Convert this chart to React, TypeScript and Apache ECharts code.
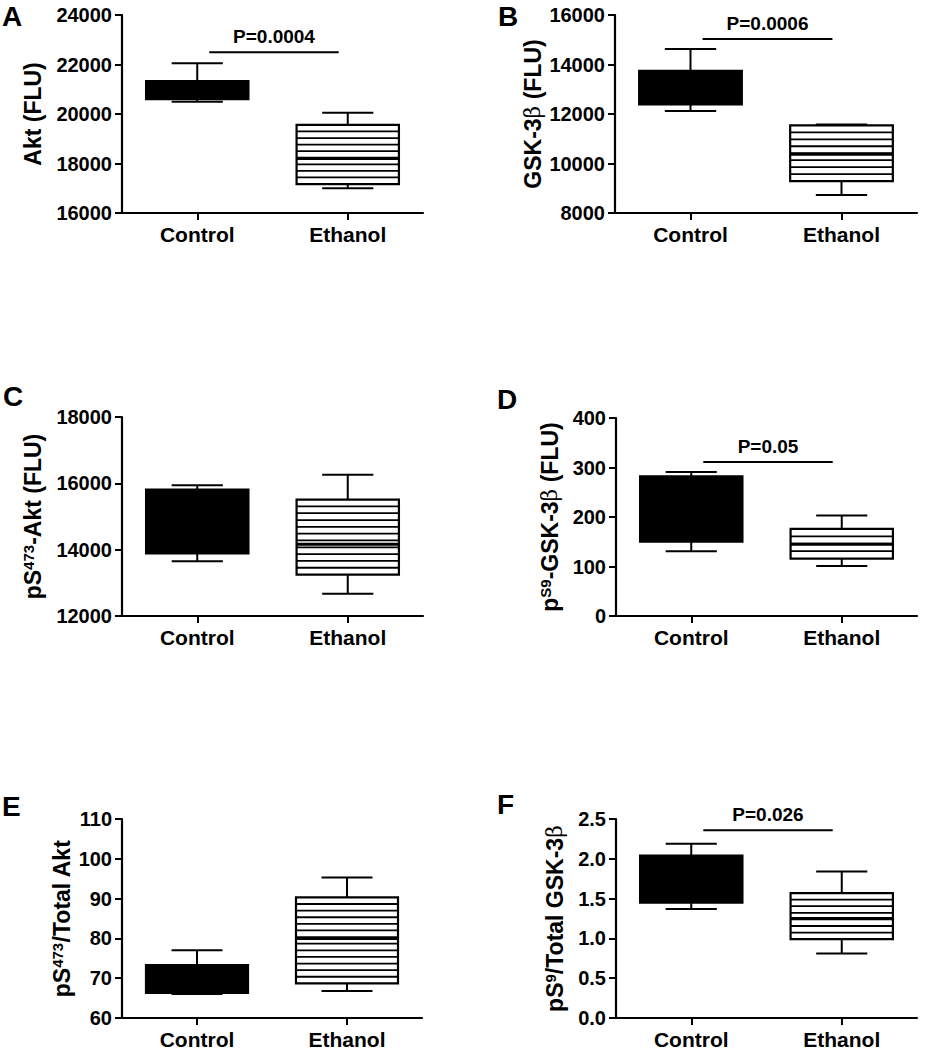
import React, { useEffect, useRef } from 'react';
import * as echarts from 'echarts';

const categories = ['Control', 'Ethanol'];

// five-number summaries: [min, Q1, median, Q3, max]
const aControl = [20500, 20600, 20900, 21330, 22050];
const aEthanol = [17000, 17170, 18200, 19560, 20050];
const bControl = [12120, 12390, 13000, 13740, 14630];
const bEthanol = [8730, 9290, 10370, 11540, 11580];
const cControl = [13650, 13890, 14800, 15810, 15940];
const cEthanol = [12670, 13250, 14160, 15510, 16260];
const dControl = [131, 150, 200, 282, 291];
const dEthanol = [101, 116, 145, 176, 203];
const eControl = [66.0, 66.3, 69.0, 73.3, 77.0];
const eEthanol = [66.8, 68.7, 80.0, 90.3, 95.3];
const fControl = [1.37, 1.45, 1.7, 2.04, 2.19];
const fEthanol = [0.81, 0.99, 1.25, 1.57, 1.84];

const pLabels = ['P=0.0004', 'P=0.0006', '', 'P=0.05', '', 'P=0.026'];
const pLevels: (number | null)[] = [22500, 15030, null, 311, null, 2.36];

const yMins = [16000, 8000, 12000, 0, 60, 0];
const yMaxs = [24000, 16000, 18000, 400, 110, 2.5];
const yIntervals = [2000, 2000, 2000, 100, 10, 0.5];
const yDecimals = [0, 0, 0, 0, 0, 1];
const panelLetters = ['A', 'B', 'C', 'D', 'E', 'F'];
const yTitles = [
  '{t|Akt (FLU)}',
  '{t|GSK-3}{b|β}{t| (FLU)}',
  '{t|pS}{s|473}{t|-Akt (FLU)}',
  '{t|p}{s|S9}{t|-GSK-3}{b|β}{t| (FLU)}',
  '{t|pS}{s|473}{t|/Total Akt}',
  '{t|pS}{s|9}{t|/Total GSK-3}{b|β}',
];

const panels = [
  [aControl, aEthanol],
  [bControl, bEthanol],
  [cControl, cEthanol],
  [dControl, dEthanol],
  [eControl, eEthanol],
  [fControl, fEthanol],
];

// layout (pixels)
const gridRects = [
  { left: 122, top: 15, width: 301, height: 198 },
  { left: 615, top: 15, width: 302, height: 198 },
  { left: 122, top: 417, width: 301, height: 199 },
  { left: 616, top: 418, width: 301, height: 198 },
  { left: 122, top: 819, width: 300, height: 201 },
  { left: 616, top: 819, width: 301, height: 202 },
];
const nameGaps = [78, 71, 78, 55, 49, 50];
const letterPos = [
  [2, 2], [498, 2], [3, 382], [497, 385], [2, 792], [497, 790],
];

const FONT = '"Liberation Sans", Arial, sans-serif';

function buildOption() {
  const grid: any[] = [];
  const xAxis: any[] = [];
  const yAxis: any[] = [];
  const series: any[] = [];
  const graphic: any[] = [];

  panels.forEach((pair, i) => {
    grid.push({ ...gridRects[i], containLabel: false });
    xAxis.push({
      type: 'category',
      gridIndex: i,
      data: categories,
      boundaryGap: true,
      axisLine: { show: true, lineStyle: { color: '#000', width: 2.2 } },
      axisTick: { show: true, alignWithLabel: true, length: 7, lineStyle: { color: '#000', width: 2 } },
      axisLabel: { color: '#000', fontFamily: FONT, fontWeight: 'bold', fontSize: 21, margin: 11 },
      splitLine: { show: false },
    });
    const dec = yDecimals[i];
    yAxis.push({
      type: 'value',
      gridIndex: i,
      min: yMins[i],
      max: yMaxs[i],
      interval: yIntervals[i],
      name: yTitles[i],
      nameLocation: 'middle',
      nameGap: nameGaps[i],
      nameTextStyle: {
        color: '#000',
        rich: {
          t: { fontFamily: FONT, fontWeight: 'bold', fontSize: 23, color: '#000' },
          s: { fontFamily: FONT, fontWeight: 'bold', fontSize: 15, color: '#000', verticalAlign: 'top' },
          b: { fontFamily: '"DejaVu Serif", serif', fontWeight: 'normal', fontSize: 22, color: '#000' },
        },
      },
      axisLine: { show: true, lineStyle: { color: '#000', width: 2.2 } },
      axisTick: { show: true, length: 7, lineStyle: { color: '#000', width: 2 } },
      axisLabel: {
        color: '#000',
        fontFamily: FONT,
        fontWeight: 'bold',
        fontSize: 20,
        margin: 10,
        formatter: (v: number) => v.toFixed(dec),
      },
      splitLine: { show: false },
    });

    series.push({
      type: 'custom',
      xAxisIndex: i,
      yAxisIndex: i,
      data: pair.map((s, k) => [k, ...s, k === 1 ? 1 : 0]),
      encode: { x: 0, y: [1, 2, 3, 4, 5] },
      renderItem: (params: any, api: any) => {
        const cat = api.value(0);
        const lo = api.coord([cat, api.value(1)]);
        const q1 = api.coord([cat, api.value(2)]);
        const med = api.coord([cat, api.value(3)]);
        const q3 = api.coord([cat, api.value(4)]);
        const hi = api.coord([cat, api.value(5)]);
        const striped = api.value(6) === 1;
        const band = api.size([1, 0])[0];
        const bw = band * 0.68;
        const cw = band * 0.34;
        const cx = lo[0];
        const ls = { stroke: '#000', lineWidth: 2 };
        const children: any[] = [
          { type: 'line', shape: { x1: cx, y1: hi[1], x2: cx, y2: q3[1] }, style: ls },
          { type: 'line', shape: { x1: cx, y1: q1[1], x2: cx, y2: lo[1] }, style: ls },
          { type: 'line', shape: { x1: cx - cw / 2, y1: hi[1], x2: cx + cw / 2, y2: hi[1] }, style: ls },
          { type: 'line', shape: { x1: cx - cw / 2, y1: lo[1], x2: cx + cw / 2, y2: lo[1] }, style: ls },
          {
            type: 'rect',
            shape: { x: cx - bw / 2, y: q3[1], width: bw, height: q1[1] - q3[1] },
            style: { fill: striped ? '#fff' : '#000', stroke: '#000', lineWidth: 2.2 },
          },
        ];
        if (striped) {
          const h = q1[1] - q3[1];
          const n = Math.max(1, Math.round(h / 6.8));
          for (let j = 1; j < n; j++) {
            const yy = q3[1] + (j * h) / n;
            children.push({
              type: 'line',
              shape: { x1: cx - bw / 2, y1: yy, x2: cx + bw / 2, y2: yy },
              style: { stroke: '#000', lineWidth: 1.8 },
            });
          }
        }
        children.push({
          type: 'line',
          shape: { x1: cx - bw / 2, y1: med[1], x2: cx + bw / 2, y2: med[1] },
          style: { stroke: '#000', lineWidth: 3 },
        });
        return { type: 'group', children };
      },
      silent: true,
      z: 3,
    });

    const lvl = pLevels[i];
    if (lvl !== null) {
      const label = pLabels[i];
      series.push({
        type: 'custom',
        xAxisIndex: i,
        yAxisIndex: i,
        data: [[0, 1, lvl]],
        encode: { x: [0, 1], y: 2 },
        renderItem: (params: any, api: any) => {
          const a = api.coord([api.value(0), api.value(2)]);
          const b = api.coord([api.value(1), api.value(2)]);
          const band = api.size([1, 0])[0];
          const x1 = a[0] + band * 0.08;
          const x2 = b[0] - band * 0.06;
          return {
            type: 'group',
            children: [
              { type: 'line', shape: { x1, y1: a[1], x2, y2: a[1] }, style: { stroke: '#000', lineWidth: 2 } },
              {
                type: 'text',
                style: {
                  text: label,
                  x: (x1 + x2) / 2,
                  y: a[1] - 6,
                  align: 'center',
                  verticalAlign: 'bottom',
                  fill: '#000',
                  font: `bold 19px ${FONT}`,
                },
              },
            ],
          };
        },
        silent: true,
        z: 4,
      });
    }

    graphic.push({
      type: 'text',
      left: letterPos[i][0],
      top: letterPos[i][1],
      style: { text: panelLetters[i], fill: '#000', font: `bold 28px ${FONT}` },
    });
  });

  return { animation: false, backgroundColor: '#fff', grid, xAxis, yAxis, series, graphic };
}

export default function App() {
  const ref = useRef<HTMLDivElement>(null);
  useEffect(() => {
    if (!ref.current) return;
    const chart = echarts.init(ref.current, undefined, { renderer: 'svg' });
    chart.setOption(buildOption() as any);
    return () => chart.dispose();
  }, []);
  return (
    <div
      ref={ref}
      style={{ position: 'absolute', left: 0, top: 0, width: 935, height: 1050, background: '#fff' }}
    />
  );
}
